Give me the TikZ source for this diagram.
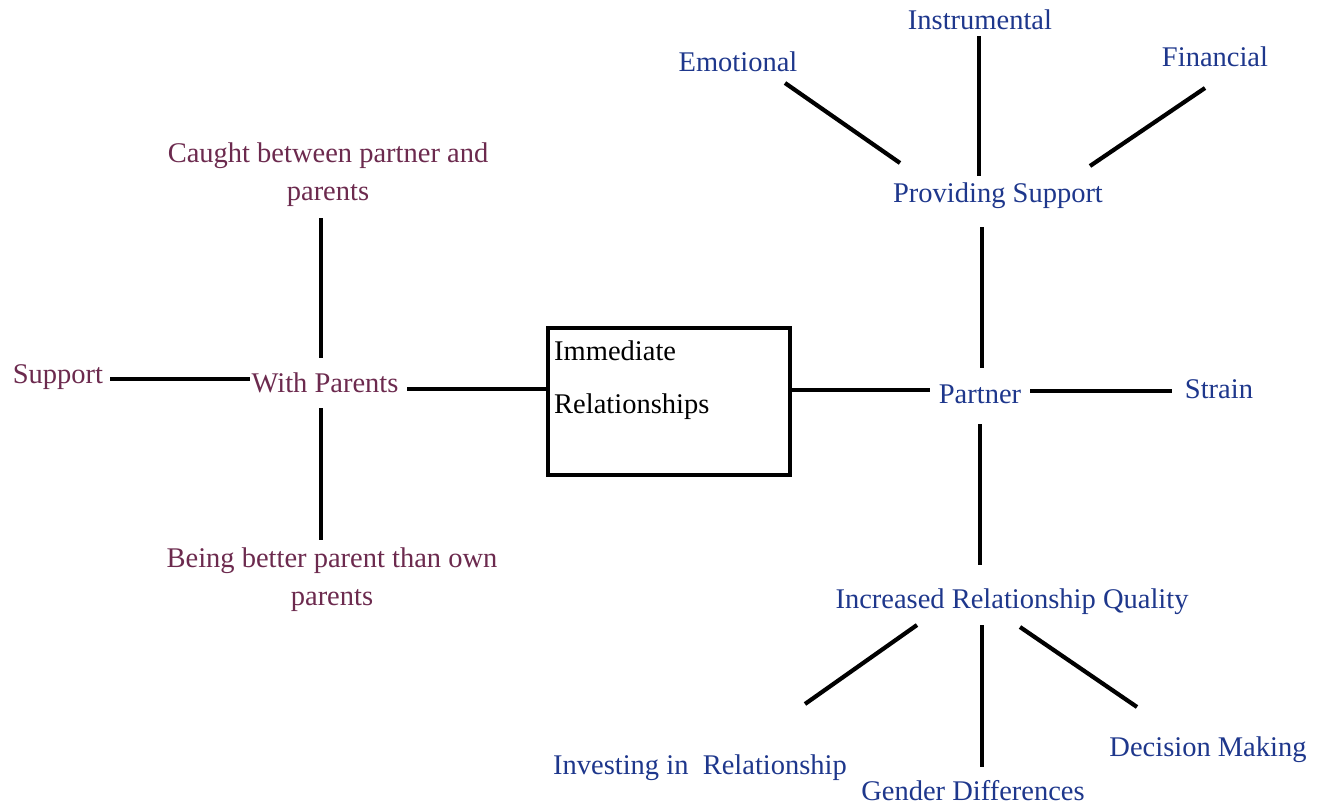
\documentclass[tikz,border=0pt]{standalone}
\usepackage{fontspec}
\setmainfont{Liberation Serif}
\definecolor{tblue}{RGB}{30,55,140}
\definecolor{tmaroon}{RGB}{108,42,78}
\begin{document}
\begin{tikzpicture}[x=1pt,y=-1pt,
  lbl/.style={inner sep=0pt,font=\fontsize{28.5}{38}\selectfont,align=center},
  bl/.style={lbl,text=tblue},
  mr/.style={lbl,text=tmaroon},
  con/.style={line width=4.2pt,black},
  boxst/.style={draw,line width=4.8pt,minimum width=242pt,minimum height=147pt,inner sep=0pt}]
\useasboundingbox (0,0) rectangle (1318,809);
% central box
\node[boxst] (box) at (669,401.5) {};
\node[lbl,anchor=west,align=left,font=\fontsize{28.5}{53}\selectfont] (boxtxt) at (554,380) {Immediate\\Relationships};
% left side
\node[mr] (wp) at (325,383) {With Parents};
\node[mr] (sup) at (58,377) {Support};
\node[mr] (caught) at (328,175) {Caught between partner and\\parents};
\node[mr] (being) at (332,580) {Being better parent than own\\parents};
% right side
\node[bl] (partner) at (980,394) {Partner};
\node[bl] (strain) at (1219,389) {Strain};
\node[bl] (ps) at (998,196) {Providing Support};
\node[bl] (emo) at (738,62) {Emotional};
\node[bl] (instr) at (980,20) {Instrumental};
\node[bl] (fin) at (1215,57) {Financial};
\node[bl] (irq) at (1012,602) {Increased Relationship Quality};
\node[bl] (inv) at (700,768) {Investing in\ \ Relationship};
\node[bl] (gen) at (973,791) {Gender Differences};
\node[bl] (dec) at (1208,750) {Decision Making};
% connector end points
\coordinate (c1a) at (110,379); \coordinate (c1b) at (250,379);
\coordinate (c2a) at (407,389);
\coordinate (c3a) at (321,218); \coordinate (c3b) at (321,358);
\coordinate (c4a) at (321,408); \coordinate (c4b) at (321,540);
\coordinate (c5b) at (930,390);
\coordinate (c6a) at (1030,391); \coordinate (c6b) at (1172,391);
\coordinate (c7a) at (982,227); \coordinate (c7b) at (982,368);
\coordinate (c8a) at (980,424); \coordinate (c8b) at (980,565);
\coordinate (c9a) at (785,83); \coordinate (c9b) at (900,163);
\coordinate (c10a) at (979,36); \coordinate (c10b) at (979,176);
\coordinate (c11a) at (1205,88); \coordinate (c11b) at (1090,166);
\coordinate (c12a) at (917,625); \coordinate (c12b) at (805,704);
\coordinate (c13a) at (982,625); \coordinate (c13b) at (982,767);
\coordinate (c14a) at (1020,627); \coordinate (c14b) at (1137,707);
% connectors
\draw[con] (c1a) -- (c1b);
\draw[con] (c2a) -- (box.west |- c2a);
\draw[con] (c3a) -- (c3b);
\draw[con] (c4a) -- (c4b);
\draw[con] (box.east |- c5b) -- (c5b);
\draw[con] (c6a) -- (c6b);
\draw[con] (c7a) -- (c7b);
\draw[con] (c8a) -- (c8b);
\draw[con] (c9a) -- (c9b);
\draw[con] (c10a) -- (c10b);
\draw[con] (c11a) -- (c11b);
\draw[con] (c12a) -- (c12b);
\draw[con] (c13a) -- (c13b);
\draw[con] (c14a) -- (c14b);
\end{tikzpicture}
\end{document}
